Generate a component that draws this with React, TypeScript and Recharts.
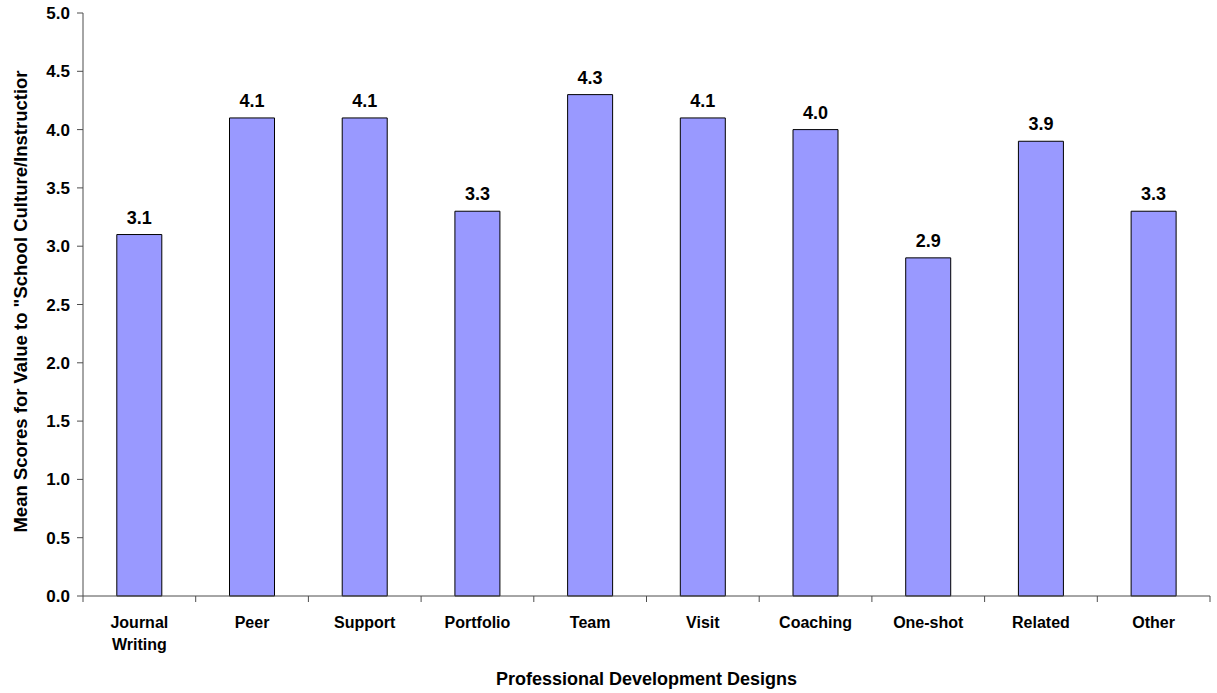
import React from 'react';
import { BarChart, Bar, XAxis, YAxis, LabelList, Text } from 'recharts';

const categories = ['Journal Writing', 'Peer', 'Support', 'Portfolio', 'Team', 'Visit', 'Coaching', 'One-shot', 'Related', 'Other'];
const meanScores = [3.1, 4.1, 4.1, 3.3, 4.3, 4.1, 4.0, 2.9, 3.9, 3.3];
const yTicks = [0, 0.5, 1, 1.5, 2, 2.5, 3, 3.5, 4, 4.5, 5];
const yLabel = 'Mean Scores for Value to "School Culture/Instructior';
const xLabel = 'Professional Development Designs';

const data = categories.map((c, i) => ({ name: c, value: meanScores[i] }));

const W = 1217;
const H = 693;
const M = { top: 13, right: 7, bottom: 0, left: 0 };
const YW = 83;
const XH = 97;
const PLOT_W = W - M.left - M.right - YW;
const BAND = PLOT_W / categories.length;
const FONT = '"Liberation Sans", Arial, sans-serif';
const AXIS = '#4d4d4d';

const CatTick = (props: any) => {
  const { x, y, payload, index } = props;
  const left = x - BAND / 2;
  const right = x + BAND / 2;
  return (
    <g>
      <line x1={left} y1={y} x2={left} y2={y + 6} stroke={AXIS} strokeWidth={1} />
      {index === categories.length - 1 && (
        <line x1={right} y1={y} x2={right} y2={y + 6} stroke={AXIS} strokeWidth={1} />
      )}
      <Text
        x={x}
        y={y + 21}
        width={90}
        textAnchor="middle"
        verticalAnchor="start"
        lineHeight={22}
        fontSize={16}
        fontWeight="bold"
        fontFamily={FONT}
        fill="#000"
      >
        {payload.value}
      </Text>
    </g>
  );
};

const YLabel = (props: any) => {
  const vb = props.viewBox || {};
  const cy = vb.y + vb.height / 2 - 3;
  const cx = 20;
  return (
    <text
      x={cx}
      y={cy}
      transform={`rotate(-90 ${cx} ${cy})`}
      textAnchor="middle"
      dominantBaseline="central"
      fontSize={18.5}
      fontWeight="bold"
      fontFamily={FONT}
      fill="#000"
    >
      {yLabel}
    </text>
  );
};

const XLabel = (props: any) => {
  const vb = props.viewBox || {};
  return (
    <text
      x={vb.x + vb.width / 2}
      y={685}
      textAnchor="middle"
      fontSize={18}
      fontWeight="bold"
      fontFamily={FONT}
      fill="#000"
    >
      {xLabel}
    </text>
  );
};

export default function App() {
  return (
    <div style={{ position: 'absolute', left: 0, top: 0, width: W, height: H, background: '#fff' }}>
      <BarChart width={W} height={H} data={data} margin={M} barCategoryGap="30%">
        <XAxis
          dataKey="name"
          type="category"
          height={XH}
          interval={0}
          tickLine={false}
          tickSize={0}
          tickMargin={0}
          axisLine={{ stroke: AXIS, strokeWidth: 1 }}
          tick={<CatTick />}
          label={<XLabel />}
        />
        <YAxis
          type="number"
          domain={[0, 5]}
          ticks={yTicks}
          width={YW}
          interval={0}
          tickSize={6}
          tickMargin={7}
          tickLine={{ stroke: AXIS }}
          axisLine={{ stroke: AXIS, strokeWidth: 1 }}
          tickFormatter={(v: number) => v.toFixed(1)}
          tick={{ fontSize: 17, fontWeight: 'bold', fontFamily: FONT, fill: '#000' }}
          label={<YLabel />}
        />
        <Bar dataKey="value" fill="#9999FF" stroke="#000" strokeWidth={1} isAnimationActive={false}>
          <LabelList
            dataKey="value"
            position="top"
            offset={11}
            formatter={(v: any) => Number(v).toFixed(1)}
            style={{ fontSize: 18, fontWeight: 'bold', fontFamily: FONT, fill: '#000' }}
          />
        </Bar>
      </BarChart>
    </div>
  );
}
